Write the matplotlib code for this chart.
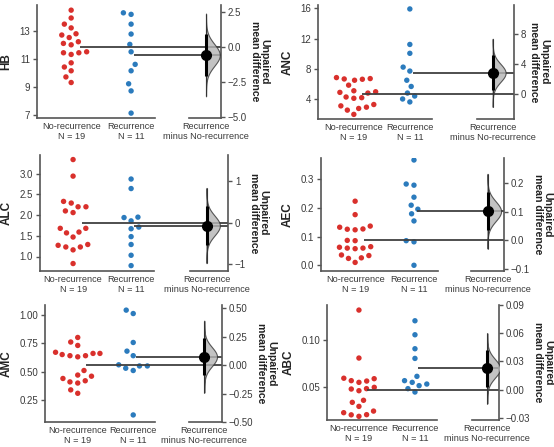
import numpy as np
import matplotlib
matplotlib.use("Agg")
import matplotlib.pyplot as plt
import seaborn as sns

plt.rcParams['font.family'] = ['Liberation Sans', 'DejaVu Sans']

# ---- data ----
group_names = ['No-recurrence', 'Recurrence']
contrast_label = 'Recurrence\nminus No-recurrence'
variables = ['HB', 'ANC', 'ALC', 'AEC', 'AMC', 'ABC']

hb_norec = [14.48, 13.92, 13.48, 13.21, 12.79, 12.70, 12.52, 12.22, 12.10, 12.0,
            11.5, 11.43, 11.43, 11.31, 10.71, 10.41, 10.14, 9.70, 9.30]
hb_rec = [14.29, 14.18, 13.48, 12.77, 12.03, 11.5, 10.60, 10.14, 9.21, 8.70, 7.11]

anc_norec = [6.68, 6.73, 6.64, 6.86, 6.51, 5.86, 4.99, 4.82, 5.12, 4.91,
             4.21, 4.30, 4.13, 3.31, 2.96, 3.13, 2.57, 2.79, 2.01]
anc_rec = [15.91, 11.23, 10.06, 8.24, 7.72, 6.51, 5.69, 4.82, 4.43, 4.04, 3.65]

alc_norec = [3.34, 2.94, 2.29, 2.33, 2.20, 2.06, 2.10, 2.20, 1.68, 1.68,
             1.57, 1.59, 1.47, 1.23, 1.29, 1.27, 1.16, 1.23, 0.83]
alc_rec = [2.87, 2.64, 1.94, 1.95, 1.86, 1.71, 1.67, 1.48, 1.29, 1.03, 0.78]

aec_norec = [0.224, 0.177, 0.133, 0.137, 0.124, 0.126, 0.127, 0.086, 0.087, 0.063,
             0.065, 0.060, 0.058, 0.060, 0.036, 0.034, 0.026, 0.024, 0.010]
aec_rec = [0.368, 0.284, 0.280, 0.238, 0.210, 0.196, 0.180, 0.155, 0.086, 0.082, 0.000]

amc_norec = [0.80, 0.76, 0.73, 0.67, 0.66, 0.66, 0.65, 0.64, 0.64, 0.63,
             0.51, 0.47, 0.46, 0.44, 0.42, 0.41, 0.40, 0.34, 0.31]
amc_rec = [1.01, 1.04, 0.756, 0.68, 0.64, 0.55, 0.56, 0.55, 0.53, 0.51, 0.12]

abc_norec = [0.1316, 0.0805, 0.0560, 0.0585, 0.0590, 0.0546, 0.0564, 0.0493, 0.0479, 0.0457,
             0.0475, 0.0355, 0.0333, 0.0290, 0.0223, 0.0202, 0.0184, 0.0240, 0.0200]
abc_rec = [0.1202, 0.1053, 0.0904, 0.0801, 0.0610, 0.0564, 0.0528, 0.0546, 0.0511, 0.0479, 0.0443]

raw_ylims = [(6.76, 14.85), (1.4, 16.43), (0.65, 3.45), (-0.02, 0.375), (0.058, 1.085), (0.0145, 0.137)]
left_ticks = [[7, 9, 11, 13], [4, 8, 12, 16], [1.0, 1.5, 2.0, 2.5, 3.0],
              [0.0, 0.1, 0.2, 0.3], [0.25, 0.50, 0.75, 1.00], [0.05, 0.10]]
right_ticks = [[-5.0, -2.5, 0.0, 2.5], [0, 4, 8], [-1, 0, 1],
               [-0.1, 0.0, 0.1, 0.2], [-0.50, -0.25, 0.00, 0.25, 0.50], [-0.03, 0.00, 0.03, 0.06, 0.09]]

# axes boxes in pixels: left, right, top, bottom
boxes = [(37, 221, 5, 118), (318, 514, 5, 119),
         (40, 228, 155, 271), (321, 504, 158, 271),
         (45, 222, 305, 422), (327, 499, 305, 420)]
# x layout per panel: left limit, contrast position, right limit
xlayout = [(-0.57, 2.25, 2.5), (-0.64, 2.48, 2.86), (-0.57, 2.30, 2.67),
           (-0.58, 2.25, 2.53), (-0.59, 2.28, 2.60), (-0.57, 2.29, 2.5)]

panels = [(hb_norec, hb_rec), (anc_norec, anc_rec), (alc_norec, alc_rec),
          (aec_norec, aec_rec), (amc_norec, amc_rec), (abc_norec, abc_rec)]

RED = '#d9302c'
BLUE = '#2b7bbd'
SPINE = '#555555'
TXT = '#3a3a3a'
LINE = '#404040'

W, H = 554, 447
fig = plt.figure(figsize=(W / 100, H / 100), dpi=100)

for i, (name, (g0, g1)) in enumerate(zip(variables, panels)):
    L, R, T, B = boxes[i]
    xmin, cx, xmax = xlayout[i]
    ax = fig.add_axes([L / W, 1 - B / H, (R - L) / W, (B - T) / H])

    g0 = np.array(g0)
    g1 = np.array(g1)
    xs = np.r_[np.zeros(len(g0)), np.ones(len(g1))]
    ys = np.r_[g0, g1]
    hue = [group_names[0]] * len(g0) + [group_names[1]] * len(g1)
    # edge width only widens the swarm spacing, edge itself is not drawn
    sns.swarmplot(x=xs, y=ys, hue=hue, palette=[RED, BLUE], native_scale=True,
                  orient='v', size=3.9, linewidth=1.5, edgecolor='none',
                  legend=False, ax=ax, zorder=3)

    ax.set_xlim(xmin, xmax)
    ax.set_ylim(*raw_ylims[i])
    ax.set_yticks(left_ticks[i])
    ax.set_xticks([0, 1, cx])
    ax.set_xticklabels([f'{group_names[0]}\nN = {len(g0)}',
                        f'{group_names[1]}\nN = {len(g1)}',
                        contrast_label], linespacing=1.05)
    ax.tick_params(axis='x', length=0, pad=3, labelsize=6.6, labelcolor=TXT)
    ax.tick_params(axis='y', length=3, width=1, color=SPINE, labelsize=7, labelcolor=TXT, pad=2)
    ax.set_ylabel(name, fontsize=8.5, fontweight='bold', color='#222222', labelpad=5)
    ax.set_xlabel('')
    for s in ['top', 'right']:
        ax.spines[s].set_visible(False)
    for s in ['left', 'bottom']:
        ax.spines[s].set_color(SPINE)
        ax.spines[s].set_linewidth(1.2)
    ax.spines['bottom'].set_bounds(xmin, 1.4)

    # contrast axis, same scale, zero at the control mean
    m0, m1 = g0.mean(), g1.mean()
    diff = m1 - m0
    se = np.sqrt(g0.var(ddof=1) / len(g0) + g1.var(ddof=1) / len(g1))
    ax2 = ax.twinx()
    lo, hi = raw_ylims[i]
    ax2.set_ylim(lo - m0, hi - m0)
    ax2.set_yticks(right_ticks[i])
    ax2.tick_params(axis='y', length=3, width=1, color=SPINE, labelsize=7, labelcolor=TXT, pad=2)
    for s in ['top', 'left']:
        ax2.spines[s].set_visible(False)
    ax2.spines['right'].set_color(SPINE)
    ax2.spines['right'].set_linewidth(1.2)
    ax2.spines['bottom'].set_visible(True)
    ax2.spines['bottom'].set_color(SPINE)
    ax2.spines['bottom'].set_linewidth(1.2)
    ax2.spines['bottom'].set_bounds(cx - 0.28, xmax)
    ax2.set_ylabel('Unpaired\nmean difference', rotation=270, va='bottom',
                   fontsize=7.6, fontweight='bold', color='#222222', labelpad=2,
                   linespacing=1.0)

    # mean reference lines
    ax2.hlines(0, 0.15, xmax, color=LINE, lw=1.3, zorder=2)
    ax2.hlines(diff, 1.05, xmax, color=LINE, lw=1.3, zorder=2)

    # half violin of the difference
    yy = np.linspace(diff - 3.8 * se, diff + 3.8 * se, 200)
    dens = np.exp(-0.5 * ((yy - diff) / se) ** 2)
    ax2.fill_betweenx(yy, cx, cx + 0.23 * dens, color='#b5b5b5', alpha=0.8,
                      edgecolor='#333333', lw=0.8, zorder=3)
    ax2.vlines(cx, yy[0], yy[-1], color='#333333', lw=0.8, zorder=3)
    ax2.vlines(cx, diff - 1.96 * se, diff + 1.96 * se, color='black', lw=2.2, zorder=4)
    ax2.plot([cx], [diff], 'o', color='black', ms=7, zorder=5)

fig.savefig('out.png', dpi=100)
